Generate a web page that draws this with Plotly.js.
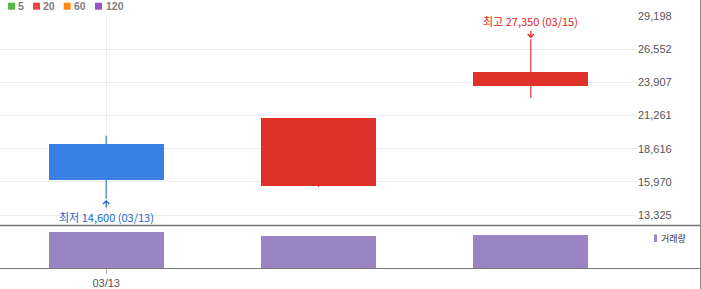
<!DOCTYPE html>
<html><head><meta charset="utf-8">
<script src="https://cdn.plot.ly/plotly-3.0.1.min.js"></script>
<style>html,body{margin:0;padding:0;background:#fff}#chart{width:701px;height:289px}</style>
</head><body><div id="chart"></div>
<script>
// ---- data ----
const dates = ['03/13', '03/14', '03/15'];
const openP = [19000, 15640, 23600];
const highP = [19650, 21060, 27350];
const lowP = [14600, 15560, 22650];
const closeP = [16100, 21060, 24750];
const volume = [1820000, 1620000, 1670000];
const priceTicks = [13325, 15970, 18616, 21261, 23907, 26552, 29198];
const priceTickText = ['13,325', '15,970', '18,616', '21,261', '23,907', '26,552', '29,198'];
const xTickLabels = ['03/13'];
const maLabels = ['5', '20', '60', '120'];
const maColors = ['#55bb44', '#ee4444', '#ff8811', '#9955cc'];
const volumeLabel = '거래량';

// ---- styling ----
const UP = '#e0302a', DOWN = '#3a80e3', VOL = '#9a84c4';
const W = 637, TOP = 16, BOT = 268;
const px = x => x / W;
const py = y => (BOT - y) / (BOT - TOP);

const isUp = dates.map((d, i) => closeP[i] >= openP[i]);
function wick(flag) {
  const x = [], y = [];
  dates.forEach((d, i) => { if (isUp[i] === flag) { x.push(d, d, null); y.push(lowP[i], highP[i], null); } });
  return x.length ? { type: 'scatter', mode: 'lines', x, y, xaxis: 'x', yaxis: 'y',
    line: { color: flag ? UP : DOWN, width: 1.2 }, hoverinfo: 'skip' } : null;
}

const traces = [
  wick(true), wick(false),
  { type: 'bar', x: dates, base: dates.map((d, i) => Math.min(openP[i], closeP[i])),
    y: dates.map((d, i) => Math.abs(closeP[i] - openP[i])), width: 0.542,
    marker: { color: isUp.map(u => u ? UP : DOWN), line: { width: 0 } }, xaxis: 'x', yaxis: 'y' },
  { type: 'bar', x: dates, y: volume, width: 0.542, marker: { color: VOL, line: { width: 0 } },
    xaxis: 'x2', yaxis: 'y2' }
].filter(Boolean);

const hiIdx = highP.indexOf(Math.max(...highP));
const loIdx = lowP.indexOf(Math.min(...lowP));
const fmt = v => v.toLocaleString('en-US');
const cjk = '"Noto Sans CJK KR", "Noto Sans", sans-serif';

const annotations = [
  { xref: 'x', yref: 'y', x: dates[hiIdx], y: highP[hiIdx], text: '최고 ' + fmt(highP[hiIdx]) + ' (' + dates[hiIdx] + ')',
    showarrow: true, ax: 0, ay: -18, arrowhead: 4, arrowsize: 1, arrowwidth: 1.2, arrowcolor: '#e8211b', standoff: 1,
    font: { family: cjk, size: 11, color: '#e8211b' } },
  { xref: 'x', yref: 'y', x: dates[loIdx], y: lowP[loIdx], text: '최저 ' + fmt(lowP[loIdx]) + ' (' + dates[loIdx] + ')',
    showarrow: true, ax: 0, ay: 18, arrowhead: 4, arrowsize: 1, arrowwidth: 1.2, arrowcolor: '#2266cc', standoff: 1,
    font: { family: cjk, size: 11, color: '#2266cc' } },
  { xref: 'paper', yref: 'paper', x: px(658.5), y: py(238), xanchor: 'left', yanchor: 'middle', showarrow: false,
    text: volumeLabel, font: { family: cjk, size: 9, color: '#333' } }
];
const maTextX = [17.3, 42.3, 73.3, 105.3];
const maBoxX = [8, 33, 63.7, 95];
const shapes = [];
maLabels.forEach((t, i) => {
  annotations.push({ xref: 'paper', yref: 'paper', x: px(maTextX[i] - 1), y: py(6.3), xanchor: 'left', yanchor: 'middle',
    showarrow: false, text: '<b>' + t + '</b>', font: { family: 'Liberation Sans, Arial, sans-serif', size: 10.5, color: '#808080' } });
  shapes.push({ type: 'rect', xref: 'paper', yref: 'paper', x0: px(maBoxX[i]), x1: px(maBoxX[i] + 7),
    y0: py(9.7), y1: py(2.7), fillcolor: maColors[i], line: { width: 0 } });
});
shapes.push(
  { type: 'rect', xref: 'paper', yref: 'paper', x0: px(654), x1: px(657), y0: py(242), y1: py(234.5), fillcolor: VOL, line: { width: 0 } },
  { type: 'line', xref: 'paper', yref: 'paper', x0: 0, x1: px(700.5), y0: py(225.5), y1: py(225.5), line: { color: '#777', width: 1.5 } },
  { type: 'line', xref: 'paper', yref: 'paper', x0: 0, x1: px(700.5), y0: py(268.5), y1: py(268.5), line: { color: '#777', width: 1.2 } },
  { type: 'line', xref: 'paper', yref: 'paper', x0: px(700.5), x1: px(700.5), y0: py(0), y1: py(289), line: { color: '#888', width: 1 } }
);

const split = (BOT - 225) / (BOT - TOP);
const volMax = Math.max(...volume) * 43 / 36;
const tickFont = { family: 'Liberation Sans, Arial, sans-serif', size: 11, color: '#555' };

const layout = {
  width: 701, height: 289,
  margin: { l: 0, r: 701 - W, t: TOP, b: 289 - BOT, pad: 0 },
  paper_bgcolor: '#fff', plot_bgcolor: '#fff',
  showlegend: false, hovermode: false, bargap: 0,
  xaxis: { type: 'category', categoryorder: 'array', categoryarray: dates, range: [-0.5, 2.5], anchor: 'y',
    showticklabels: false, ticks: '', tickvals: xTickLabels, showgrid: true, gridcolor: '#ececec', gridwidth: 1,
    zeroline: false, showline: false, fixedrange: true },
  yaxis: { domain: [split, 1], range: [12527, 29198], side: 'right', anchor: 'x', tickvals: priceTicks, ticktext: priceTickText,
    ticks: '', showgrid: true, gridcolor: '#ececec', gridwidth: 1, zeroline: false, showline: false, tickfont: tickFont, fixedrange: true },
  xaxis2: { type: 'category', categoryorder: 'array', categoryarray: dates, range: [-0.5, 2.5], anchor: 'y2', matches: 'x',
    tickvals: xTickLabels, ticktext: xTickLabels, ticks: 'outside', ticklen: 5, tickcolor: '#aaa', tickwidth: 1,
    showgrid: false, zeroline: false, showline: false, tickfont: tickFont, fixedrange: true },
  yaxis2: { domain: [0, split], range: [0, volMax], anchor: 'x2', showticklabels: false, ticks: '', showgrid: false,
    zeroline: false, showline: false, fixedrange: true },
  annotations, shapes
};

Plotly.newPlot('chart', traces, layout, { staticPlot: true, displayModeBar: false });
</script></body></html>
